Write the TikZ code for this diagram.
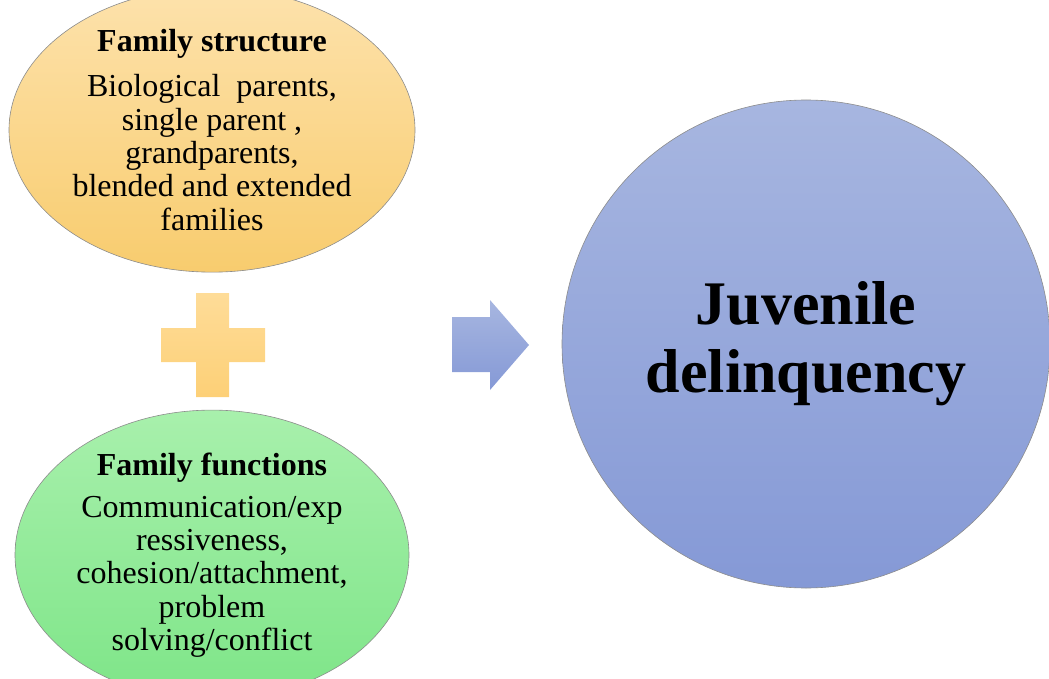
\documentclass[tikz,border=0pt]{standalone}
\usepackage{fontspec}
\setmainfont{Liberation Serif}
\usetikzlibrary{shapes.geometric}
\definecolor{orTop}{HTML}{FDE2AC}
\definecolor{orBot}{HTML}{F8CC6E}
\definecolor{grTop}{HTML}{A8F0AC}
\definecolor{grBot}{HTML}{7EE588}
\definecolor{blTop}{HTML}{A7B6E0}
\definecolor{blBot}{HTML}{8599D6}
\definecolor{plTop}{HTML}{FEDC98}
\definecolor{plBot}{HTML}{FDD077}
\definecolor{edge}{HTML}{8C8C8C}
\tikzset{
  oval/.style={ellipse, draw=edge, line width=0.6pt, inner sep=0pt, align=center,
    font=\fontsize{32}{33.3}\selectfont},
  bigcirc/.style={circle, draw=edge, line width=0.6pt, inner sep=0pt, align=center,
    font=\bfseries\fontsize{62}{68}\selectfont}
}
\begin{document}
\begin{tikzpicture}[x=1pt,y=-1pt]
\useasboundingbox (0,0) rectangle (1049,679);
% top ellipse
\node[oval, top color=orTop, bottom color=orBot, minimum width=406pt, minimum height=246pt]
  (structure) at (212,130)
  {\textbf{Family structure}\\[12pt]
   Biological\ \ parents,\\ single parent ,\\ grandparents,\\ blended and extended\\ families};
% bottom ellipse
\node[oval, top color=grTop, bottom color=grBot, minimum width=394pt, minimum height=244pt]
  (functions) at (212,555)
  {\textbf{Family functions}\\[9pt]
   Communication/exp\\ ressiveness,\\ cohesion/attachment,\\ problem\\ solving/conflict};
% plus sign
\path[top color=plTop, bottom color=plBot]
  (196,293) -- (229,293) -- (229,328) -- (265,328) -- (265,362) -- (229,362)
  -- (229,397) -- (196,397) -- (196,362) -- (161,362) -- (161,328) -- (196,328) -- cycle;
\coordinate (plus) at (213,345);
% arrow
\path[top color=blTop, bottom color=blBot]
  (452,317) -- (490,317) -- (490,300) -- (529,345) -- (490,390) -- (490,372) -- (452,372) -- cycle;
\coordinate (arrow) at (490,345);
% circle
\node[bigcirc, top color=blTop, bottom color=blBot, minimum size=488pt]
  (juvenile) at (806,344) {Juvenile\\ delinquency};
\end{tikzpicture}
\end{document}
